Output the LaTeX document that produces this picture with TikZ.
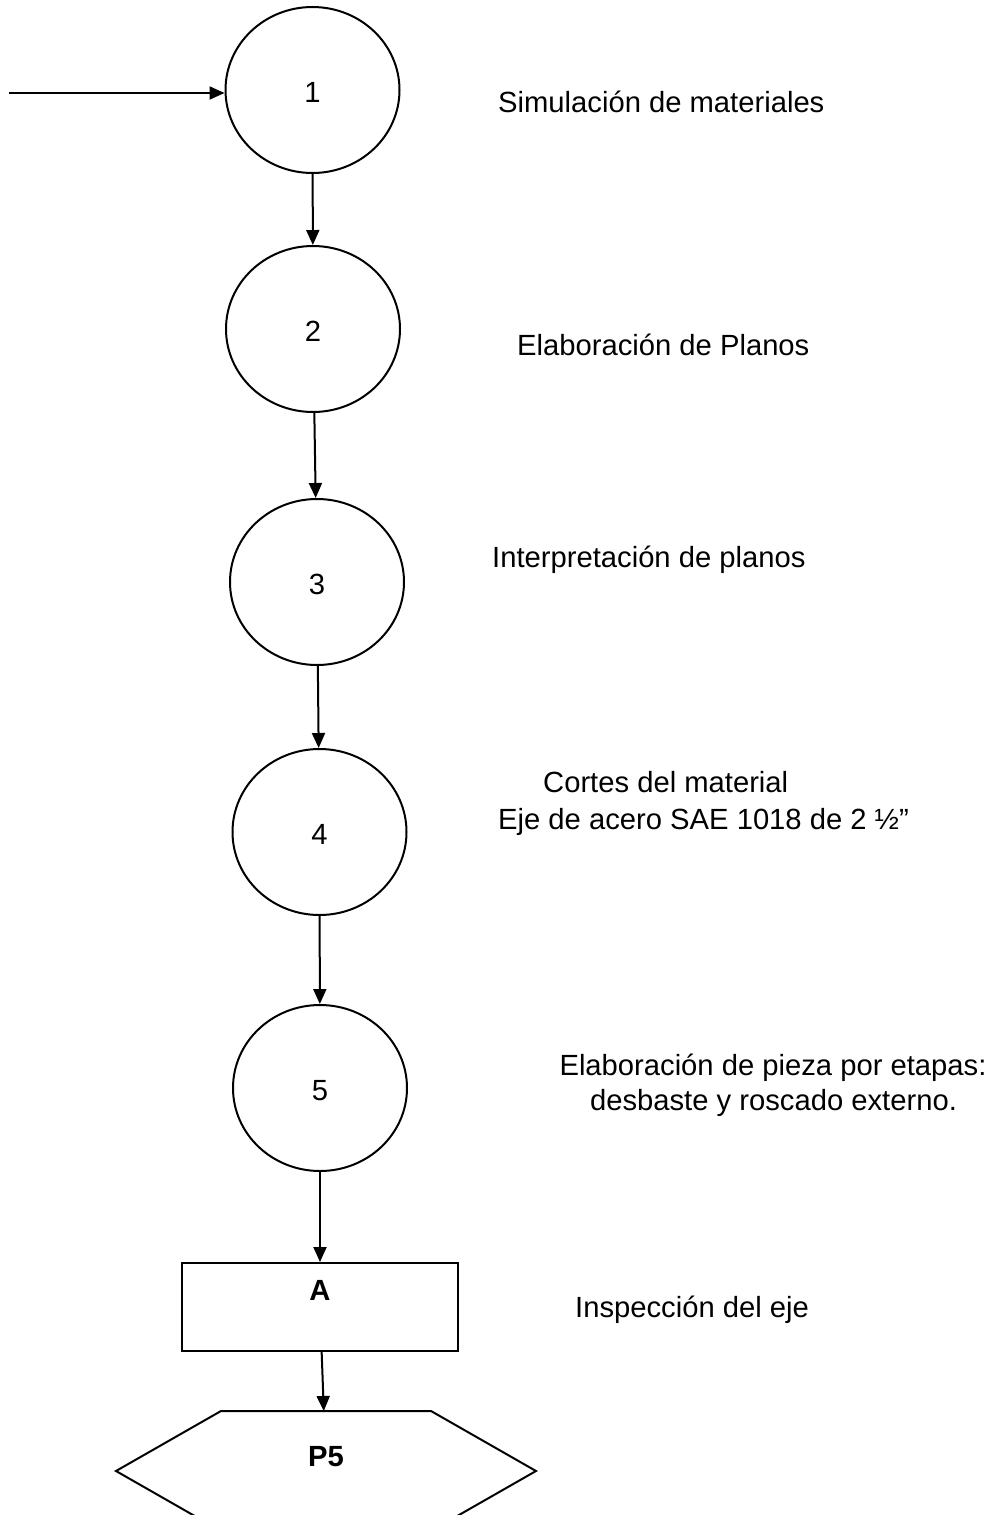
\documentclass[tikz,border=0pt]{standalone}
\usepackage{fontspec}
\setmainfont{Liberation Sans}
\usetikzlibrary{shapes.geometric, arrows.meta, positioning}

\begin{document}
\begin{tikzpicture}[
    x=1pt, y=-1pt,
    every node/.style={font=\fontsize{29.2}{35}\selectfont},
    stepcirc/.style={ellipse, draw, line width=2pt, minimum width=174pt,
                     minimum height=166pt, inner sep=0pt, text height=25pt},
    inspbox/.style={rectangle, draw, line width=2pt, minimum width=276pt,
                    minimum height=88pt, inner sep=0pt, text depth=32.5pt,
                    font=\fontsize{29.2}{35}\selectfont\bfseries},
    prodhex/.style={rectangle, minimum width=420pt, minimum height=120pt,
                    inner sep=0pt, outer sep=0pt, text depth=30pt,
                    font=\fontsize{29.2}{35}\selectfont\bfseries},
    hexline/.style={line width=2pt, line join=miter},
    desc/.style={anchor=base west, inner sep=0pt},
    desccen/.style={anchor=base, inner sep=0pt},
    arrow/.style={-{Triangle[length=15pt, width=13pt]}, line width=2pt}
]
\useasboundingbox (0,0) rectangle (994,1515);

% Process chain (circles, inspection, product)
\node[stepcirc] (c1) at (312.5,90) {1};
\node[stepcirc, below=71pt of c1, xshift=0.5pt] (c2) {2};
\node[stepcirc, below=85pt of c2, xshift=4pt] (c3) {3};
\node[stepcirc, below=82pt of c3, xshift=2.5pt] (c4) {4};
\node[stepcirc, below=88pt of c4, xshift=0.5pt] (c5) {5};
\node[inspbox, below=90pt of c5] (insp) {A};
\node[prodhex, below=59pt of insp, xshift=6pt] (prod) {P5};
\draw[hexline] ([xshift=105pt]prod.north west) -- ([xshift=-105pt]prod.north east)
    -- (prod.east) -- ([xshift=-105pt]prod.south east)
    -- ([xshift=105pt]prod.south west) -- (prod.west) -- cycle;

% Input
\coordinate (start) at (9,93);
\draw[arrow] (start) -- (start -| c1.west);

% Flow
\draw[arrow] (c1) -- (c2);
\draw[arrow] (c2) -- (c3);
\draw[arrow] (c3) -- (c4);
\draw[arrow] (c4) -- (c5);
\draw[arrow] (c5) -- (insp);
\draw[arrow] (insp) -- (prod);

% Descriptions
\node[desc] (d1) at (498,112) {Simulación de materiales};
\node[desc] (d2) at (517,355) {Elaboración de Planos};
\node[desc] (d3) at (492,567) {Interpretación de planos};
\node[desc] (d4a) at (543,792) {Cortes del material};
\node[desc] (d4b) at (498,829) {Eje de acero SAE 1018 de 2 ½”};
\node[desccen] (d5a) at (773,1075) {Elaboración de pieza por etapas:};
\node[desccen] (d5b) at (773.5,1110) {desbaste y roscado externo.};
\node[desc] (d6) at (575,1317) {Inspección del eje};

\end{tikzpicture}
\end{document}
